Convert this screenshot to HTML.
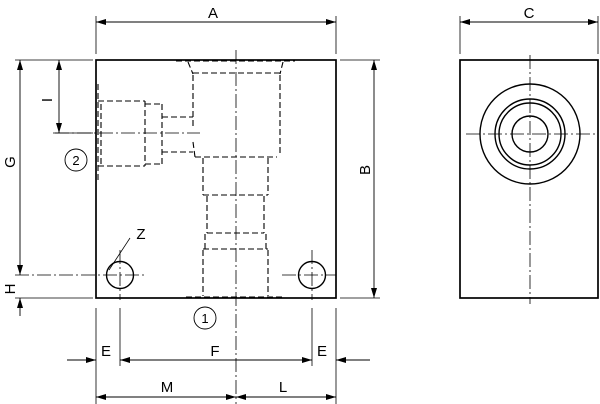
<!DOCTYPE html>
<html><head><meta charset="utf-8"><style>html,body{margin:0;padding:0;background:#fff}svg{display:block}</style></head>
<body>
<svg width="600" height="404" viewBox="0 0 600 404" xmlns="http://www.w3.org/2000/svg" font-family="Liberation Sans, sans-serif" font-size="15" fill="none" stroke="#000">
<defs>
<marker id="ar" viewBox="0 0 10 6" refX="10" refY="3" markerWidth="10" markerHeight="6" orient="auto-start-reverse" markerUnits="userSpaceOnUse"><path d="M0,0 L10,3 L0,6 z" fill="#000" stroke="none"/></marker>
</defs>
<rect x="96" y="60" width="240" height="238" stroke-width="1.7"/>
<rect x="460" y="60" width="138" height="238" stroke-width="1.7"/>
<g stroke-width="1.4">
<circle cx="530" cy="134" r="50"/><circle cx="530" cy="134" r="35"/><circle cx="530" cy="134" r="31"/><circle cx="530" cy="134" r="18"/>
<circle cx="120" cy="275" r="13.5"/><circle cx="312" cy="275" r="13.5"/>
</g>
<g stroke-width="0.8" stroke-dasharray="14,3,2,3">
<line x1="236" y1="50" x2="236" y2="404"/>
<line x1="530" y1="55" x2="530" y2="304"/>
<line x1="466" y1="134" x2="595" y2="134"/>
<line x1="55" y1="133" x2="200" y2="133"/>
<line x1="120" y1="250" x2="120" y2="300"/>
<line x1="312" y1="250" x2="312" y2="300"/>
<line x1="15" y1="275" x2="146" y2="275"/>
<line x1="282" y1="275" x2="336" y2="275"/>
</g>
<g stroke-width="1.1" stroke-dasharray="6,3">
<line x1="176" y1="61" x2="295" y2="61"/>
<line x1="188" y1="62" x2="193" y2="74"/><line x1="283" y1="62" x2="280" y2="74"/>
<line x1="193" y1="73" x2="280" y2="73"/>
<line x1="193" y1="75" x2="193" y2="126"/><line x1="193" y1="142" x2="195" y2="157"/>
<line x1="280" y1="75" x2="280" y2="155"/>
<line x1="195" y1="157" x2="277" y2="157"/>
<line x1="203" y1="158" x2="203" y2="195"/><line x1="268" y1="158" x2="268" y2="195"/>
<line x1="203" y1="195" x2="268" y2="195"/>
<line x1="207" y1="196" x2="207" y2="233"/><line x1="264" y1="196" x2="264" y2="233"/>
<line x1="207" y1="233" x2="264" y2="233"/>
<line x1="205" y1="234" x2="205" y2="249"/><line x1="266" y1="234" x2="266" y2="249"/>
<line x1="203" y1="249" x2="268" y2="249"/>
<line x1="203" y1="250" x2="203" y2="296"/><line x1="268" y1="250" x2="268" y2="296"/>
<line x1="186" y1="297" x2="284" y2="297"/>
<line x1="98" y1="101" x2="145" y2="101"/><line x1="98" y1="166" x2="145" y2="166"/>
<line x1="101" y1="104" x2="101" y2="164"/>
<line x1="145" y1="101" x2="145" y2="166"/>
<line x1="145" y1="104" x2="162" y2="104"/><line x1="145" y1="164" x2="162" y2="164"/>
<line x1="162" y1="104" x2="162" y2="164"/>
<line x1="162" y1="117" x2="193" y2="117"/><line x1="162" y1="152" x2="193" y2="152"/>
<line x1="98" y1="84" x2="98" y2="180"/>
</g>
<g stroke-width="0.8">
<line x1="96" y1="16" x2="96" y2="54"/><line x1="336" y1="16" x2="336" y2="54"/>
<line x1="460" y1="16" x2="460" y2="54"/><line x1="598" y1="16" x2="598" y2="54"/>
<line x1="15" y1="60" x2="93" y2="60"/><line x1="15" y1="298" x2="93" y2="298"/>
<line x1="53" y1="133" x2="93" y2="133"/>
<line x1="340" y1="60" x2="380" y2="60"/><line x1="340" y1="298" x2="380" y2="298"/>
<line x1="96" y1="308" x2="96" y2="404"/><line x1="336" y1="308" x2="336" y2="404"/>
<line x1="120" y1="308" x2="120" y2="366"/><line x1="312" y1="308" x2="312" y2="366"/>
<line x1="109" y1="270" x2="130" y2="238"/>
</g>
<g stroke-width="0.9">
<line x1="96" y1="22" x2="336" y2="22" marker-start="url(#ar)" marker-end="url(#ar)"/>
<line x1="460" y1="22" x2="598" y2="22" marker-start="url(#ar)" marker-end="url(#ar)"/>
<line x1="374" y1="60" x2="374" y2="298" marker-start="url(#ar)" marker-end="url(#ar)"/>
<line x1="20" y1="60" x2="20" y2="275" marker-start="url(#ar)" marker-end="url(#ar)"/>
<line x1="20" y1="298" x2="20" y2="316" marker-start="url(#ar)"/>
<line x1="59" y1="60" x2="59" y2="133" marker-start="url(#ar)" marker-end="url(#ar)"/>
<line x1="67" y1="360" x2="96" y2="360" marker-end="url(#ar)"/>
<line x1="120" y1="360" x2="312" y2="360" marker-start="url(#ar)" marker-end="url(#ar)"/>
<line x1="370" y1="360" x2="336" y2="360" marker-end="url(#ar)"/>
<line x1="96" y1="397" x2="236" y2="397" marker-start="url(#ar)" marker-end="url(#ar)"/>
<line x1="236" y1="397" x2="336" y2="397" marker-start="url(#ar)" marker-end="url(#ar)"/>
<circle cx="76" cy="160" r="11"/><circle cx="205" cy="318" r="11"/>
</g>
<g fill="#000" stroke="none" text-anchor="middle">
<text x="213" y="18">A</text>
<text x="529" y="18">C</text>
<text x="106" y="356">E</text>
<text x="215" y="356">F</text>
<text x="322" y="356">E</text>
<text x="167" y="392">M</text>
<text x="283" y="392">L</text>
<text x="141" y="239">Z</text>
<text x="76" y="165" font-size="13">2</text>
<text x="205" y="323" font-size="13">1</text>
<text transform="translate(370,170) rotate(-90)">B</text>
<text transform="translate(15,162) rotate(-90)">G</text>
<text transform="translate(15,289) rotate(-90)">H</text>
<text transform="translate(52,100) rotate(-90)">I</text>
</g>
</svg>
</body></html>
